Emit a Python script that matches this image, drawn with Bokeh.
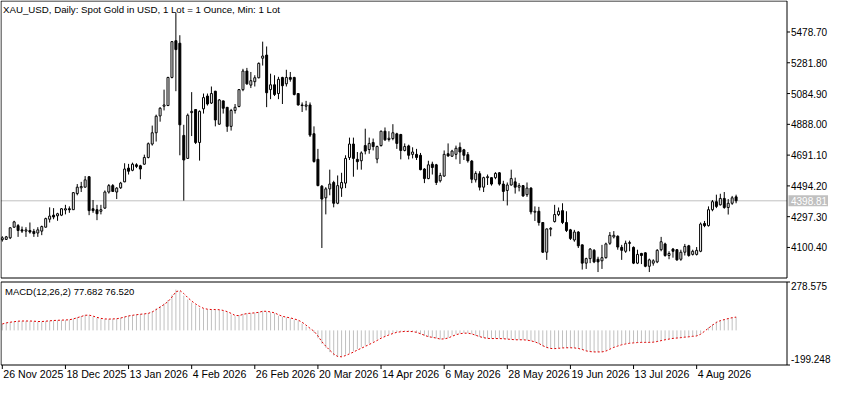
from bokeh.plotting import figure
from bokeh.models import Range1d
from bokeh.layouts import column
from bokeh.embed import file_html
from bokeh.resources import INLINE
from bokeh.core.properties import value

# ---------------- data ----------------
open_ = [4150, 4152, 4162, 4230, 4240, 4213, 4205, 4209, 4203, 4193,
         4205, 4230, 4281, 4307, 4303, 4307, 4340, 4348, 4342, 4445,
         4482, 4486, 4553, 4348, 4342, 4332, 4352, 4455, 4496, 4455,
         4482, 4520, 4608, 4594, 4629, 4623, 4633, 4676, 4762, 4834,
         4942, 5004, 5008, 5188, 5423, 5407, 4817, 4670, 4963, 4983,
         4772, 4987, 5069, 5024, 5100, 4889, 5038, 4997, 4875, 4977,
         5002, 5110, 5229, 5139, 5161, 5186, 5311, 5331, 5110, 5141,
         5085, 5188, 5147, 5188, 5188, 5085, 5012, 5004, 5012, 4828,
         4664, 4492, 4418, 4475, 4516, 4383, 4480, 4512, 4676, 4762,
         4664, 4655, 4752, 4727, 4772, 4666, 4752, 4844, 4791, 4797,
         4827, 4823, 4721, 4750, 4696, 4696, 4690, 4602, 4541, 4633,
         4629, 4527, 4557, 4700, 4684, 4696, 4741, 4725, 4694, 4653,
         4533, 4572, 4486, 4547, 4547, 4547, 4578, 4506, 4465, 4500,
         4520, 4486, 4496, 4438, 4480, 4326, 4332, 4260, 4070, 4217,
         4266, 4311, 4336, 4260, 4213, 4148, 4199, 4117, 4000, 4029,
         4082, 4025, 4015, 4035, 4127, 4168, 4172, 4101, 4076, 4131,
         4101, 4000, 4062, 4066, 3980, 4000, 4008, 4086, 4123, 4049,
         4090, 4086, 4025, 4070, 4111, 4056, 4056, 4076, 4254, 4240,
         4342, 4393, 4373, 4414, 4356, 4383, 4424]
high = [4172, 4174, 4230, 4271, 4250, 4234, 4230, 4260, 4219, 4230,
        4240, 4291, 4357, 4352, 4322, 4352, 4373, 4363, 4455, 4506,
        4520, 4557, 4555, 4404, 4373, 4373, 4465, 4506, 4506, 4486,
        4520, 4639, 4635, 4643, 4639, 4629, 4694, 4772, 4880, 4950,
        4998, 5110, 5192, 5421, 5600, 5458, 4885, 4957, 5094, 4985,
        4977, 5085, 5085, 5130, 5102, 5049, 5040, 4999, 4987, 5018,
        5114, 5243, 5249, 5223, 5202, 5284, 5417, 5386, 5212, 5202,
        5192, 5192, 5237, 5223, 5192, 5086, 5028, 5038, 5028, 4875,
        4731, 4500, 4486, 4598, 4527, 4561, 4578, 4690, 4803, 4803,
        4711, 4715, 4860, 4803, 4797, 4752, 4848, 4868, 4844, 4889,
        4834, 4827, 4766, 4758, 4741, 4731, 4705, 4608, 4655, 4649,
        4635, 4578, 4721, 4766, 4725, 4752, 4772, 4731, 4711, 4660,
        4588, 4588, 4553, 4567, 4549, 4582, 4582, 4527, 4516, 4598,
        4547, 4512, 4500, 4516, 4486, 4363, 4360, 4262, 4221, 4230,
        4373, 4356, 4383, 4332, 4219, 4213, 4205, 4119, 4035, 4097,
        4090, 4041, 4117, 4131, 4199, 4205, 4178, 4117, 4144, 4144,
        4107, 4086, 4066, 4070, 4029, 4025, 4090, 4168, 4131, 4076,
        4097, 4090, 4086, 4123, 4117, 4086, 4103, 4260, 4270, 4363,
        4404, 4438, 4444, 4455, 4410, 4430, 4438]
low = [4138, 4148, 4154, 4226, 4168, 4193, 4168, 4189, 4168, 4168,
       4179, 4228, 4260, 4281, 4271, 4301, 4312, 4322, 4340, 4434,
       4455, 4484, 4307, 4322, 4275, 4312, 4348, 4445, 4455, 4410,
       4475, 4518, 4567, 4588, 4608, 4537, 4629, 4670, 4752, 4778,
       4905, 4977, 5006, 5182, 5100, 4690, 4400, 4668, 4813, 4762,
       4656, 4957, 5008, 5018, 4875, 4885, 4957, 4840, 4848, 4957,
       4997, 5100, 5141, 5120, 5130, 5182, 5264, 4998, 5049, 5069,
       5049, 5018, 5130, 5161, 5073, 5008, 4967, 4977, 4807, 4643,
       4492, 4097, 4312, 4434, 4357, 4377, 4424, 4480, 4660, 4553,
       4598, 4598, 4696, 4700, 4721, 4639, 4746, 4782, 4778, 4786,
       4731, 4664, 4715, 4664, 4670, 4660, 4594, 4512, 4537, 4567,
       4500, 4516, 4553, 4680, 4680, 4664, 4635, 4660, 4643, 4512,
       4516, 4465, 4455, 4500, 4496, 4537, 4496, 4398, 4369, 4496,
       4445, 4459, 4424, 4424, 4312, 4270, 4240, 4066, 4021, 4172,
       4260, 4301, 4250, 4199, 4148, 4137, 4097, 3959, 3963, 4000,
       4000, 3943, 3963, 4029, 4117, 4158, 4086, 4021, 4066, 4076,
       3994, 3994, 3994, 3974, 3943, 3984, 4000, 4076, 4041, 4025,
       4035, 4015, 4015, 4049, 4041, 4049, 4049, 4070, 4230, 4234,
       4332, 4352, 4369, 4348, 4311, 4373, 4383]
close = [4162, 4168, 4226, 4264, 4209, 4205, 4213, 4199, 4189, 4213,
         4234, 4285, 4301, 4295, 4316, 4348, 4348, 4342, 4451, 4486,
         4490, 4533, 4336, 4336, 4316, 4342, 4455, 4496, 4459, 4480,
         4512, 4602, 4588, 4633, 4619, 4602, 4676, 4764, 4834, 4940,
         4991, 5012, 5188, 5417, 5366, 4885, 4660, 4946, 4971, 4772,
         4971, 5059, 5018, 5085, 4916, 5044, 4991, 4875, 4977, 4997,
         5110, 5229, 5147, 5167, 5186, 5278, 5325, 5090, 5141, 5079,
         5176, 5135, 5188, 5176, 5079, 5012, 5008, 5012, 4819, 4650,
         4496, 4410, 4475, 4506, 4383, 4496, 4516, 4670, 4762, 4670,
         4649, 4705, 4717, 4766, 4746, 4746, 4844, 4789, 4799, 4834,
         4766, 4721, 4746, 4690, 4711, 4676, 4598, 4541, 4629, 4612,
         4516, 4561, 4696, 4686, 4717, 4735, 4711, 4690, 4655, 4537,
         4574, 4486, 4547, 4553, 4506, 4574, 4506, 4459, 4500, 4541,
         4486, 4496, 4430, 4480, 4328, 4332, 4260, 4070, 4219, 4223,
         4311, 4332, 4260, 4209, 4158, 4199, 4111, 4000, 4029, 4090,
         4008, 4008, 4035, 4123, 4178, 4178, 4103, 4082, 4127, 4127,
         4000, 4056, 4049, 3980, 4021, 4015, 4082, 4137, 4049, 4062,
         4076, 4021, 4070, 4107, 4049, 4076, 4082, 4250, 4240, 4342,
         4393, 4363, 4414, 4356, 4383, 4418, 4398.81]

macd_main = [37, 45, 48, 52, 54, 54, 54, 53, 52, 50,
             51, 54, 56, 57, 58, 59, 60, 62, 68, 76,
             82, 90, 86, 78, 72, 66, 65, 65, 66, 68,
             73, 80, 85, 88, 92, 94, 96, 100, 110, 126,
             140, 155, 175, 205, 235, 225, 200, 178, 160, 145,
             130, 124, 121, 120, 120, 118, 112, 105, 92, 82,
             88, 96, 98, 100, 102, 106, 113, 108, 104, 98,
             84, 78, 74, 70, 62, 56, 40, 22, 5, -12,
             -45, -78, -100, -125, -145, -153, -152, -140, -130, -120,
             -108, -98, -88, -76, -65, -52, -40, -32, -22, -15,
             -9, -7, -6, -6, -8, -13, -22, -32, -38, -42,
             -46, -52, -48, -42, -30, -22, -17, -15, -16, -22,
             -32, -38, -44, -47, -47, -47, -47, -49, -51, -53,
             -54, -54, -54, -57, -62, -68, -78, -92, -102, -105,
             -105, -102, -100, -100, -100, -101, -105, -112, -120, -123,
             -124, -124, -124, -116, -104, -95, -87, -81, -76, -73,
             -71, -69, -69, -69, -69, -67, -62, -58, -52, -49,
             -45, -43, -41, -38, -36, -33, -32, -18, 0, 18,
             35, 50, 58, 64, 70, 74, 77.682]
macd_signal = [37, 43, 47, 50, 53, 54, 54, 54, 53, 51,
               51, 53, 55, 57, 58, 59, 60, 61, 66, 73,
               80, 87, 88, 82, 75, 69, 66, 65, 66, 67,
               71, 77, 83, 87, 90, 93, 95, 98, 106, 120,
               134, 149, 166, 192, 222, 230, 212, 189, 169, 152,
               138, 127, 122, 120, 120, 119, 115, 108, 98, 86,
               85, 92, 97, 99, 101, 104, 110, 110, 106, 101,
               90, 81, 76, 72, 66, 59, 47, 30, 12, -5,
               -32, -65, -91, -114, -136, -150, -152, -145, -135, -125,
               -113, -103, -92, -81, -70, -58, -45, -35, -26, -18,
               -11, -8, -6, -6, -7, -11, -19, -28, -36, -40,
               -44, -50, -49, -44, -34, -25, -19, -16, -16, -20,
               -28, -36, -42, -46, -47, -47, -47, -48, -50, -52,
               -54, -54, -54, -56, -60, -66, -75, -88, -98, -104,
               -105, -103, -101, -100, -100, -101, -104, -110, -118, -122,
               -124, -124, -124, -119, -108, -98, -90, -83, -78, -74,
               -72, -70, -69, -69, -69, -68, -64, -59, -54, -50,
               -46, -44, -42, -39, -37, -34, -32, -22, -5, 13,
               30, 46, 56, 62, 68, 73, 76.52]

date_tick_idx = [0, 16, 32, 48, 64, 80, 96, 112, 128, 144, 160, 176]
date_labels = ["26 Nov 2025", "18 Dec 2025", "13 Jan 2026", "4 Feb 2026",
               "26 Feb 2026", "20 Mar 2026", "14 Apr 2026", "6 May 2026",
               "28 May 2026", "19 Jun 2026", "13 Jul 2026", "4 Aug 2026"]
price_ticks = [4100.40, 4297.30, 4494.20, 4691.10, 4888.00, 5084.90, 5281.80, 5478.70]
last_price = 4398.81
price_min, price_max = 3905.0, 5677.0
macd_min, macd_max = -199.248, 278.575
title_text = "XAU_USD, Daily:  Spot Gold in USD, 1 Lot = 1 Ounce, Min: 1 Lot"
macd_text = "MACD(12,26,2) 77.682 76.520"

# ---------------- layout / style ----------------
FONT = value("Liberation Sans")
FS = value("10px")
W = 834
PH, MH = 279, 105          # canvas heights of the two panes
BOX_R = 786.5              # px of panel right border
x_lo, x_hi = -0.33, 198.9
s = (BOX_R - 0.5) / (x_hi - x_lo)           # px per bar
x_start = x_lo - 0.5 / s
xr = Range1d(x_start, x_start + W / s)

# price pane: price_max at 0.5px, price_min at 277.5px from top
pu = (price_max - price_min) / 277.0
py_end = price_max + 0.5 * pu
pyr = Range1d(py_end - PH * pu, py_end)

# macd pane: top border at 2.5px, bottom border at 85.5px
mu = (macd_max - macd_min) / 83.0
my_end = macd_max + 2.5 * mu
myr = Range1d(my_end - MH * mu, my_end)


def base_fig(h, yr):
    f = figure(frame_width=W, frame_height=h, x_range=xr, y_range=yr,
               output_backend="svg", toolbar_location=None,
               x_axis_location=None, y_axis_location=None,
               min_border=0, min_border_left=0, min_border_right=0,
               min_border_top=0, min_border_bottom=0)
    f.grid.visible = False
    f.outline_line_color = None
    f.background_fill_color = "white"
    f.border_fill_color = "white"
    return f


idx = list(range(len(close)))
up = [i for i in idx if close[i] >= open_[i]]
dn = [i for i in idx if close[i] < open_[i]]

# ======== price pane ========
p = base_fig(PH, pyr)
p.segment(x0=[x_lo], y0=[last_price], x1=[x_hi], y1=[last_price],
          line_color="#c0c0c0", line_width=1)
p.segment(x0=idx, y0=low, x1=idx, y1=high, line_color="black", line_width=1)
p.vbar(x=up, top=[close[i] for i in up], bottom=[open_[i] for i in up],
       width=0.5, fill_color="white", line_color="black", line_width=1)
p.vbar(x=dn, top=[open_[i] for i in dn], bottom=[close[i] for i in dn],
       width=0.5, fill_color="black", line_color="black", line_width=1)
p.quad(left=[x_lo], right=[x_hi], bottom=[price_min], top=[price_max],
       fill_color=None, line_color="black", line_width=1)
# right price scale
p.segment(x0=[x_hi] * len(price_ticks), y0=price_ticks,
          x1=[x_hi + 3 / s] * len(price_ticks), y1=price_ticks,
          line_color="black", line_width=1)
p.text(x=[x_hi + 4 / s] * len(price_ticks), y=price_ticks,
       text=["%.2f" % t for t in price_ticks], text_font=FONT, text_font_size=FS,
       text_color="black", text_align="left", text_baseline="middle")
# current price marker
p.quad(left=[x_hi + 1.5 / s], right=[x_hi + 41 / s],
       bottom=[last_price - 5.5 * pu], top=[last_price + 5.5 * pu],
       fill_color="#c0c0c0", line_color=None)
p.text(x=[x_hi + 4 / s], y=[last_price], text=["%.2f" % last_price],
       text_font=FONT, text_font_size=FS, text_color="white",
       text_align="left", text_baseline="middle")
# caption
p.text(x=[x_lo + 2 / s], y=[price_max - 3 * pu], text=[title_text],
       text_font=FONT, text_font_size=value("9.7px"), text_color="black",
       text_align="left", text_baseline="top")

# ======== MACD pane ========
m = base_fig(MH, myr)
m.segment(x0=idx, y0=[0] * len(idx), x1=idx, y1=macd_main,
          line_color="#c0c0c0", line_width=1)
m.line(idx, macd_signal, line_color="#e00000", line_width=1, line_dash="2 2")
m.quad(left=[x_lo], right=[x_hi], bottom=[macd_min], top=[macd_max],
       fill_color=None, line_color="black", line_width=1)
m.segment(x0=[x_hi, x_hi], y0=[macd_max, macd_min],
          x1=[x_hi + 3 / s, x_hi + 3 / s], y1=[macd_max, macd_min],
          line_color="black", line_width=1)
m.text(x=[x_hi + 4 / s, x_hi + 4 / s], y=[macd_max - 4 * mu, macd_min + 6 * mu],
       text=["%.3f" % macd_max, "%.3f" % macd_min], text_font=FONT,
       text_font_size=FS, text_color="black", text_align="left",
       text_baseline="middle")
m.text(x=[x_lo + 4 / s], y=[macd_max - 4 * mu], text=[macd_text],
       text_font=FONT, text_font_size=value("9.5px"), text_color="black",
       text_align="left", text_baseline="top")
# time scale
m.segment(x0=date_tick_idx, y0=[macd_min] * len(date_tick_idx),
          x1=date_tick_idx, y1=[macd_min - 4 * mu] * len(date_tick_idx),
          line_color="black", line_width=1)
m.text(x=[t + 1 / s for t in date_tick_idx], y=[macd_min - 3 * mu] * len(date_tick_idx),
       text=date_labels, text_font=FONT, text_font_size=value("10.6px"),
       text_color="black", text_align="left", text_baseline="top")

layout = column(p, m, spacing=0)
open("out.html", "w").write(file_html(layout, INLINE))
